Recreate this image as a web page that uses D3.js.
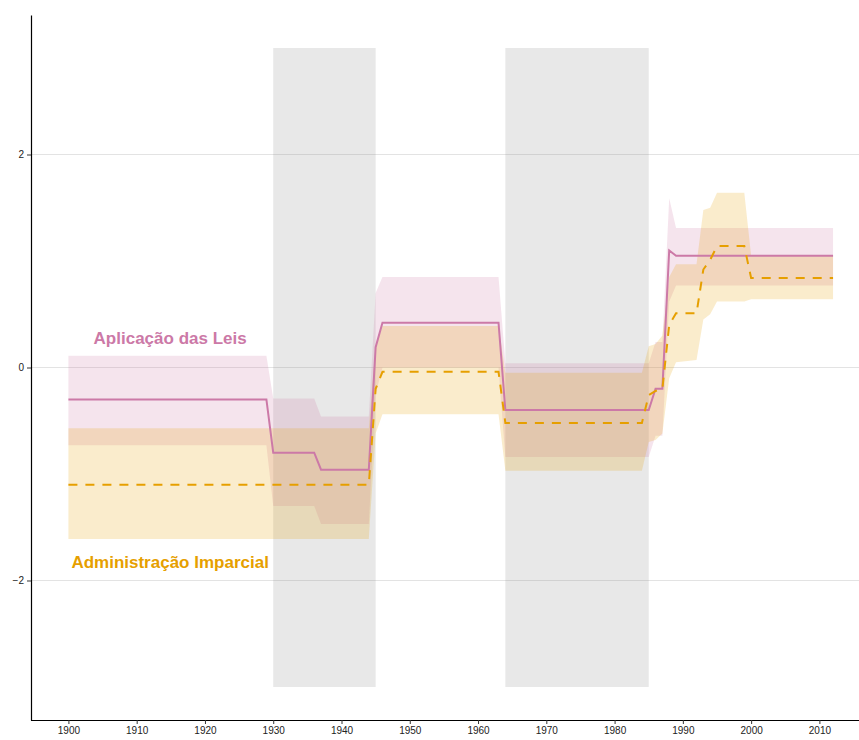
<!DOCTYPE html>
<html>
<head>
<meta charset="utf-8">
<script src="https://cdn.jsdelivr.net/npm/d3@7"></script>
<style>
  body { margin: 0; background: #fff; }
  svg { display: block; font-family: "Liberation Sans", Arial, sans-serif; }
</style>
</head>
<body>
<div id="chart"></div>
<script>
'use strict';

// Aplicação das Leis - estimate with interval
const leisYears = [1900, 1929, 1930, 1936, 1937, 1944, 1945, 1946, 1963, 1964, 1985, 1986, 1987, 1988, 1989, 2012];
const leisMean  = [-0.30, -0.30, -0.80, -0.80, -0.96, -0.96, 0.19, 0.42, 0.42, -0.40, -0.40, -0.20, -0.20, 1.10, 1.05, 1.05];
const leisLow   = [-0.73, -0.73, -1.30, -1.30, -1.47, -1.47, -0.25, 0.00, 0.00, -0.84, -0.84, -0.64, -0.64, 0.62, 0.77, 0.77];
const leisHigh  = [0.11, 0.11, -0.29, -0.29, -0.46, -0.46, 0.70, 0.85, 0.85, 0.04, 0.04, 0.24, 0.24, 1.59, 1.31, 1.31];

// Administração Imparcial - estimate with interval
const admYears = [1900, 1944, 1945, 1946, 1963, 1964, 1984, 1985, 1986, 1987, 1988, 1989, 1992, 1993, 1994, 1995, 1999, 2000, 2012];
const admMean  = [-1.10, -1.10, -0.20, -0.04, -0.04, -0.52, -0.52, -0.26, -0.22, -0.20, 0.40, 0.51, 0.51, 0.92, 1.01, 1.14, 1.14, 0.84, 0.84];
const admLow   = [-1.61, -1.61, -0.62, -0.44, -0.44, -0.97, -0.97, -0.70, -0.68, -0.62, -0.10, 0.05, 0.07, 0.45, 0.50, 0.62, 0.62, 0.64, 0.64];
const admHigh  = [-0.57, -0.57, 0.20, 0.39, 0.39, -0.05, -0.05, 0.20, 0.22, 0.30, 0.85, 0.97, 0.97, 1.48, 1.50, 1.64, 1.64, 1.05, 1.05];

// Shaded periods
const periodStart = [1930, 1964];
const periodEnd   = [1945, 1985];

// Axis ticks
const xTicks = [1900, 1910, 1920, 1930, 1940, 1950, 1960, 1970, 1980, 1990, 2000, 2010];
const yTicks = [-2, 0, 2];

const width = 859, height = 740;
const pink = '#CC79A7', orange = '#E69F00';

let svg = d3.select('#chart').append('svg')
    .attr('width', width).attr('height', height);

// Scales
let x = d3.scaleLinear().domain([1894.52, 2015.8]).range([31, 859]);
let y = d3.scaleLinear().domain([-3.31, 3.31]).range([720, 15]);

// Grid lines
svg.append('g').selectAll('line')
    .data(yTicks)
    .join('line')
    .attr('x1', 31).attr('x2', width)
    .attr('y1', d => y(d)).attr('y2', d => y(d))
    .attr('stroke', '#e3e3e3').attr('stroke-width', 1);

// Shaded periods
svg.append('g').selectAll('rect')
    .data(periodStart.map((s, i) => [s, periodEnd[i]]))
    .join('rect')
    .attr('x', d => x(d[0]))
    .attr('width', d => x(d[1]) - x(d[0]))
    .attr('y', y(3))
    .attr('height', y(-3) - y(3))
    .attr('fill', '#7f7f7f')
    .attr('fill-opacity', 0.18);

// Bands first, lines drawn later on top
function drawSeries(years, mean, low, high, color, dash) {
    let rows = years.map((yr, i) => ({ year: yr, mean: mean[i], low: low[i], high: high[i] }));

    let area = d3.area()
        .x(d => x(d.year))
        .y0(d => y(d.low))
        .y1(d => y(d.high));

    svg.append('path')
        .datum(rows)
        .attr('d', area)
        .attr('fill', color)
        .attr('fill-opacity', 0.2);

    return () => {
        let line = d3.line()
            .x(d => x(d.year))
            .y(d => y(d.mean));
        svg.append('path')
            .datum(rows)
            .attr('d', line)
            .attr('fill', 'none')
            .attr('stroke', color)
            .attr('stroke-width', 2)
            .attr('stroke-dasharray', dash);
    };
}

let leisLine = drawSeries(leisYears, leisMean, leisLow, leisHigh, pink, null);
let admLine = drawSeries(admYears, admMean, admLow, admHigh, orange, '9,8');
leisLine();
admLine();

// Series labels
svg.append('text')
    .attr('x', x(1914.9)).attr('y', y(0.28))
    .attr('dy', '0.35em')
    .attr('text-anchor', 'middle')
    .attr('font-size', 17).attr('font-weight', 'bold')
    .attr('fill', pink)
    .text('Aplicação das Leis');

svg.append('text')
    .attr('x', x(1914.9)).attr('y', y(-1.83))
    .attr('dy', '0.35em')
    .attr('text-anchor', 'middle')
    .attr('font-size', 17).attr('font-weight', 'bold')
    .attr('fill', orange)
    .text('Administração Imparcial');

// Axes
let xAxis = d3.axisBottom(x).tickValues(xTicks).tickFormat(d3.format('d')).tickSize(4).tickSizeOuter(0);
let gx = svg.append('g')
    .attr('transform', `translate(0,${y.range()[0]})`)
    .call(xAxis);

let yAxis = d3.axisLeft(y).tickValues(yTicks).tickFormat(d3.format('d')).tickSize(4).tickSizeOuter(0);
let gy = svg.append('g')
    .attr('transform', 'translate(31,0)')
    .call(yAxis);

[gx, gy].forEach(g => {
    g.select('.domain').attr('stroke', '#000').attr('stroke-width', 1.2);
    g.selectAll('.tick line').attr('stroke', '#333');
    g.selectAll('.tick text')
        .attr('fill', '#222')
        .attr('font-size', 10)
        .attr('font-family', '"Liberation Sans", Arial, sans-serif');
});
gx.select('.domain').attr('d', `M31,0.5H${width}`);
</script>
</body>
</html>
